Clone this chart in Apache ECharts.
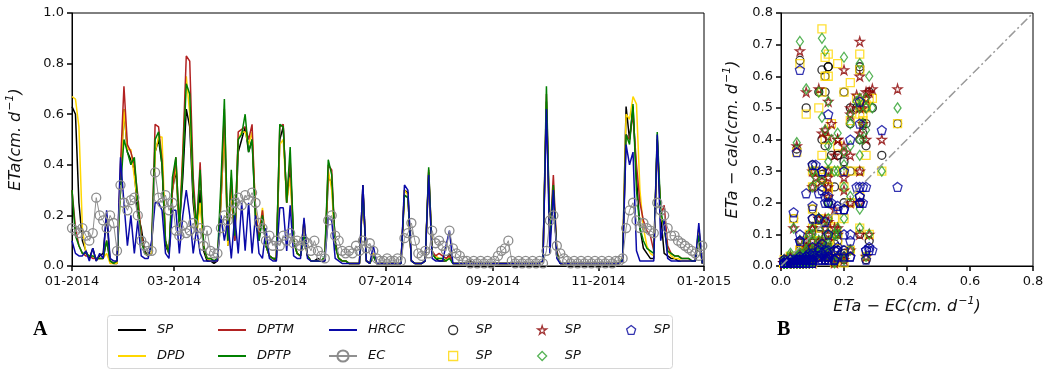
<!DOCTYPE html>
<html>
<head>
<meta charset="utf-8">
<script src="https://cdn.jsdelivr.net/npm/echarts@6/dist/echarts.min.js"></script>
<style>
html,body{margin:0;padding:0;background:#fff;}
#c{width:1051px;height:376px;}
</style>
</head>
<body>
<div id="c"></div>
<script>
// ---- data (sampled every 2 days, day 0 = 2014-01-01) ----
const STEP_DAYS = 2;
const X_TICK_DAYS = [0, 59, 120, 181, 243, 304, 365];
const X_TICK_LABELS = ['01-2014', '03-2014', '05-2014', '07-2014', '09-2014', '11-2014', '01-2015'];

const SP = [
 0.63,0.60,0.25,0.10,0.06,0.03,0.07,0.02,0.04,0.05,
 0.20,0.02,0.01,0.01,0.35,0.62,0.45,0.42,0.38,0.20,
 0.15,0.06,0.04,0.05,0.45,0.50,0.40,0.08,0.05,0.30,
 0.38,0.15,0.35,0.62,0.55,0.25,0.12,0.30,0.06,0.02,
 0.02,0.01,0.02,0.25,0.55,0.08,0.30,0.10,0.45,0.50,
 0.55,0.45,0.50,0.20,0.10,0.20,0.08,0.04,0.03,0.02,
 0.50,0.55,0.25,0.40,0.10,0.05,0.04,0.18,0.04,0.02,
 0.02,0.03,0.02,0.02,0.35,0.33,0.10,0.03,0.02,0.02,
 0.01,0.01,0.01,0.01,0.32,0.02,0.01,0.05,0.01,0.01,
 0.01,0.01,0.01,0.01,0.01,0.01,0.30,0.29,0.02,0.01,
 0.01,0.01,0.02,0.37,0.05,0.03,0.02,0.02,0.02,0.05,
 0.01,0.01,0.01,0.01,0.01,0.02,0.01,0.01,0.01,0.01,
 0.01,0.01,0.01,0.01,0.01,0.01,0.01,0.01,0.01,0.01,
 0.01,0.01,0.01,0.01,0.01,0.01,0.02,0.65,0.10,0.30,
 0.05,0.01,0.01,0.01,0.01,0.01,0.01,0.01,0.01,0.01,
 0.01,0.01,0.01,0.01,0.01,0.01,0.01,0.01,0.01,0.03,
 0.63,0.50,0.63,0.35,0.15,0.07,0.05,0.03,0.03,0.50,
 0.20,0.05,0.04,0.03,0.03,0.02,0.02,0.02,0.02,0.02,
 0.02,0.15,0.01
];
const DPD = [
 0.67,0.66,0.55,0.15,0.05,0.04,0.04,0.03,0.03,0.03,
 0.05,0.01,0.01,0.01,0.30,0.62,0.46,0.46,0.35,0.25,
 0.12,0.05,0.04,0.05,0.45,0.51,0.51,0.10,0.05,0.30,
 0.40,0.15,0.45,0.75,0.60,0.30,0.12,0.25,0.08,0.03,
 0.02,0.02,0.02,0.25,0.55,0.08,0.30,0.12,0.50,0.53,
 0.53,0.48,0.53,0.22,0.12,0.23,0.08,0.04,0.03,0.03,
 0.48,0.50,0.25,0.35,0.10,0.05,0.04,0.18,0.04,0.02,
 0.02,0.02,0.02,0.03,0.38,0.30,0.08,0.03,0.02,0.02,
 0.01,0.01,0.01,0.01,0.30,0.02,0.01,0.05,0.01,0.01,
 0.01,0.01,0.01,0.01,0.01,0.01,0.30,0.28,0.02,0.01,
 0.01,0.01,0.02,0.36,0.05,0.04,0.03,0.03,0.02,0.04,
 0.01,0.01,0.01,0.01,0.01,0.01,0.01,0.01,0.01,0.01,
 0.01,0.01,0.01,0.01,0.01,0.01,0.01,0.01,0.01,0.01,
 0.01,0.01,0.01,0.01,0.01,0.01,0.02,0.64,0.10,0.30,
 0.05,0.01,0.01,0.01,0.01,0.01,0.01,0.01,0.01,0.01,
 0.01,0.01,0.01,0.01,0.01,0.01,0.01,0.01,0.01,0.03,
 0.60,0.58,0.67,0.64,0.30,0.15,0.08,0.05,0.04,0.48,
 0.20,0.15,0.06,0.04,0.03,0.03,0.02,0.02,0.02,0.02,
 0.02,0.15,0.01
];
const DPTM = [
 0.30,0.15,0.08,0.05,0.04,0.04,0.03,0.03,0.03,0.03,
 0.10,0.02,0.01,0.02,0.40,0.71,0.48,0.45,0.40,0.28,
 0.12,0.05,0.04,0.08,0.56,0.55,0.42,0.10,0.05,0.30,
 0.43,0.15,0.45,0.83,0.81,0.35,0.15,0.41,0.08,0.03,
 0.03,0.02,0.02,0.28,0.62,0.10,0.35,0.10,0.53,0.54,
 0.55,0.50,0.56,0.20,0.12,0.22,0.08,0.04,0.03,0.03,
 0.55,0.56,0.25,0.42,0.10,0.05,0.04,0.12,0.04,0.02,
 0.02,0.02,0.02,0.03,0.40,0.38,0.08,0.03,0.02,0.02,
 0.01,0.01,0.01,0.01,0.30,0.02,0.01,0.04,0.01,0.01,
 0.01,0.01,0.01,0.01,0.01,0.01,0.28,0.27,0.02,0.01,
 0.01,0.01,0.02,0.38,0.06,0.04,0.05,0.04,0.03,0.04,
 0.01,0.01,0.01,0.01,0.01,0.01,0.01,0.01,0.01,0.01,
 0.01,0.01,0.01,0.01,0.01,0.01,0.01,0.01,0.01,0.01,
 0.01,0.01,0.01,0.01,0.01,0.01,0.02,0.68,0.12,0.36,
 0.06,0.01,0.01,0.01,0.01,0.01,0.01,0.01,0.01,0.01,
 0.01,0.01,0.01,0.01,0.01,0.01,0.01,0.01,0.01,0.03,
 0.52,0.50,0.60,0.40,0.25,0.18,0.14,0.12,0.06,0.50,
 0.20,0.24,0.08,0.05,0.04,0.04,0.03,0.03,0.03,0.02,
 0.02,0.12,0.01
];
const DPTP = [
 0.30,0.12,0.08,0.05,0.05,0.04,0.04,0.03,0.03,0.03,
 0.10,0.02,0.01,0.02,0.30,0.50,0.45,0.40,0.43,0.25,
 0.10,0.05,0.04,0.08,0.50,0.53,0.40,0.10,0.05,0.35,
 0.43,0.15,0.40,0.72,0.68,0.30,0.15,0.38,0.08,0.03,
 0.03,0.02,0.03,0.33,0.66,0.10,0.38,0.12,0.50,0.52,
 0.60,0.45,0.50,0.18,0.10,0.20,0.08,0.04,0.03,0.03,
 0.56,0.55,0.25,0.47,0.10,0.05,0.04,0.12,0.04,0.02,
 0.02,0.02,0.02,0.04,0.42,0.36,0.08,0.03,0.02,0.02,
 0.01,0.01,0.01,0.01,0.30,0.02,0.01,0.04,0.01,0.01,
 0.01,0.01,0.01,0.01,0.01,0.01,0.28,0.27,0.02,0.01,
 0.01,0.01,0.02,0.39,0.05,0.03,0.03,0.03,0.02,0.03,
 0.01,0.01,0.01,0.01,0.01,0.01,0.01,0.01,0.01,0.01,
 0.01,0.01,0.01,0.01,0.01,0.01,0.01,0.01,0.01,0.01,
 0.01,0.01,0.01,0.01,0.01,0.01,0.02,0.71,0.12,0.32,
 0.05,0.01,0.01,0.01,0.01,0.01,0.01,0.01,0.01,0.01,
 0.01,0.01,0.01,0.01,0.01,0.01,0.01,0.01,0.01,0.03,
 0.52,0.48,0.64,0.30,0.15,0.10,0.07,0.06,0.05,0.53,
 0.22,0.15,0.06,0.05,0.04,0.04,0.03,0.03,0.03,0.02,
 0.02,0.12,0.01
];
const HRCC = [
 0.10,0.05,0.04,0.04,0.06,0.02,0.07,0.02,0.05,0.03,
 0.22,0.03,0.02,0.02,0.43,0.25,0.08,0.20,0.05,0.18,
 0.04,0.03,0.03,0.10,0.25,0.25,0.22,0.05,0.03,0.22,
 0.22,0.05,0.20,0.30,0.20,0.05,0.15,0.05,0.02,0.02,
 0.02,0.02,0.02,0.20,0.10,0.18,0.03,0.20,0.05,0.25,
 0.06,0.25,0.05,0.20,0.05,0.03,0.15,0.03,0.02,0.02,
 0.23,0.23,0.06,0.24,0.04,0.03,0.03,0.19,0.03,0.02,
 0.02,0.02,0.02,0.02,0.19,0.18,0.03,0.02,0.01,0.01,
 0.01,0.01,0.01,0.01,0.32,0.02,0.01,0.08,0.01,0.01,
 0.01,0.01,0.01,0.01,0.01,0.01,0.32,0.30,0.02,0.01,
 0.01,0.01,0.02,0.36,0.03,0.02,0.02,0.02,0.08,0.14,
 0.01,0.01,0.01,0.01,0.01,0.01,0.01,0.01,0.01,0.01,
 0.01,0.01,0.01,0.01,0.01,0.01,0.01,0.01,0.01,0.01,
 0.01,0.01,0.01,0.01,0.01,0.01,0.02,0.62,0.05,0.30,
 0.03,0.01,0.01,0.01,0.01,0.01,0.01,0.01,0.01,0.01,
 0.01,0.01,0.01,0.01,0.01,0.01,0.01,0.01,0.01,0.02,
 0.48,0.40,0.45,0.06,0.02,0.02,0.02,0.02,0.02,0.52,
 0.10,0.18,0.03,0.02,0.02,0.02,0.02,0.02,0.02,0.02,
 0.02,0.17,0.01
];
const EC = [
 0.15,0.14,0.13,0.15,0.12,0.10,0.13,0.27,0.20,0.18,
 0.15,0.20,0.17,0.06,0.32,0.25,0.22,0.26,0.27,0.20,
 0.10,0.08,0.06,0.06,0.37,0.27,0.25,0.28,0.22,0.25,
 0.14,0.12,0.16,0.13,0.14,0.17,0.12,0.15,0.08,0.14,
 0.06,0.05,0.05,0.15,0.20,0.18,0.22,0.25,0.27,0.24,
 0.28,0.26,0.29,0.25,0.17,0.15,0.10,0.12,0.08,0.10,
 0.08,0.12,0.10,0.13,0.09,0.10,0.08,0.10,0.09,0.06,
 0.10,0.06,0.04,0.03,0.18,0.20,0.12,0.10,0.06,0.05,
 0.06,0.05,0.08,0.06,0.10,0.07,0.09,0.06,0.03,0.02,
 0.02,0.03,0.02,0.02,0.03,0.02,0.11,0.13,0.17,0.10,
 0.05,0.04,0.06,0.05,0.14,0.09,0.10,0.08,0.06,0.14,
 0.07,0.05,0.04,0.02,0.02,0.01,0.02,0.01,0.02,0.01,
 0.02,0.01,0.02,0.04,0.06,0.07,0.10,0.02,0.01,0.02,
 0.01,0.02,0.01,0.02,0.01,0.02,0.01,0.06,0.18,0.20,
 0.08,0.05,0.03,0.02,0.01,0.02,0.01,0.02,0.01,0.02,
 0.01,0.02,0.01,0.02,0.01,0.02,0.01,0.02,0.02,0.03,
 0.15,0.22,0.25,0.18,0.15,0.17,0.15,0.14,0.13,0.25,
 0.22,0.20,0.15,0.12,0.12,0.10,0.09,0.08,0.07,0.06,
 0.05,0.04,0.08
];
const DIAG = [[0, 0], [0.8, 0.8]];

// ---- build ----
const FONT = 'DejaVu Sans';
const toXY = arr => arr.map((v, i) => [i * STEP_DAYS, v]);
const vsEC = arr => arr.map((v, i) => [EC[i], v]);

const STAR = 'path://M50,0 L61,35 L98,35 L68,57 L79,91 L50,70 L21,91 L32,57 L2,35 L39,35 Z';
const PENT = 'path://M50,0 L98,36 L80,95 L20,95 L2,36 Z';

const lineSeries = (name, data, color) => ({
  name, type: 'line', data: toXY(data), xAxisIndex: 0, yAxisIndex: 0,
  symbol: 'none', lineStyle: { color, width: 1.5 }, itemStyle: { color },
  z: 2
});
const scatterSeries = (name, data, symbol, color, size) => ({
  name, type: 'scatter', data: vsEC(data), xAxisIndex: 1, yAxisIndex: 1,
  symbol, symbolSize: size,
  itemStyle: { color: 'rgba(0,0,0,0)', borderColor: color, borderWidth: 1.3 },
  z: 3
});

const tickLabel = { fontFamily: FONT, fontSize: 13, color: '#111' };
const axisTitle = {
  i: { fontFamily: FONT, fontStyle: 'italic', fontSize: 16, color: '#111', lineHeight: 22 },
  s: { fontFamily: FONT, fontStyle: 'italic', fontSize: 11, color: '#111', lineHeight: 22, verticalAlign: 'top', padding: [0, 0, 0, 1] }
};
const axBase = {
  axisLine: { show: true, onZero: false, lineStyle: { color: '#000', width: 1 } },
  axisTick: { show: true, inside: false, length: 5, lineStyle: { color: '#000', width: 1.5 } },
  splitLine: { show: false }
};

const legendText = (pad) => ({ fontFamily: FONT, fontStyle: 'italic', fontSize: 13, color: '#111', lineHeight: 14, padding: [0, 0, 0, pad] });
const noSym = n => ({ name: n, itemStyle: { opacity: 0 } });
const symItem = (n, icon, color) => ({
  name: n, icon,
  itemStyle: { color: 'rgba(0,0,0,0)', borderColor: color, borderWidth: 1.3 }
});
const mkLegend = (left, top, names, iw, ih, gap, pad) => ({
  show: true, orient: 'vertical', left, top, data: names,
  itemWidth: iw, itemHeight: ih, itemGap: gap,
  textStyle: legendText(pad),
  formatter: n => n.split('_')[0],
  selectedMode: false
});

const option = {
  animation: false,
  backgroundColor: '#fff',
  grid: [
    { left: 72, right: 347, top: 13, bottom: 110, show: true, borderColor: '#000', borderWidth: 1, outerBoundsMode: 'none', containLabel: false },
    { left: 781, right: 18, top: 13, bottom: 110, show: true, borderColor: '#000', borderWidth: 1, outerBoundsMode: 'none', containLabel: false }
  ],
  xAxis: [
    Object.assign({}, axBase, {
      type: 'value', gridIndex: 0, min: 0, max: 365,
      axisTick: Object.assign({}, axBase.axisTick, { customValues: X_TICK_DAYS }),
      axisLabel: Object.assign({}, tickLabel, {
        customValues: X_TICK_DAYS, margin: 9,
        formatter: v => X_TICK_LABELS[X_TICK_DAYS.indexOf(v)]
      })
    }),
    Object.assign({}, axBase, {
      type: 'value', gridIndex: 1, min: 0, max: 0.8, interval: 0.2,
      axisLabel: Object.assign({}, tickLabel, { margin: 9, formatter: v => v.toFixed(1) }),
      name: '{i|ETa − EC(cm. d}{s|−1}{i|)}', nameLocation: 'middle', nameGap: 30,
      nameTextStyle: { rich: axisTitle }
    })
  ],
  yAxis: [
    Object.assign({}, axBase, {
      type: 'value', gridIndex: 0, min: 0, max: 1, interval: 0.2,
      axisLabel: Object.assign({}, tickLabel, { margin: 8, formatter: v => v.toFixed(1) }),
      name: '{i|ETa(cm. d}{s|−1}{i|)}', nameLocation: 'middle', nameGap: 45,
      nameTextStyle: { rich: axisTitle }
    }),
    Object.assign({}, axBase, {
      type: 'value', gridIndex: 1, min: 0, max: 0.8, interval: 0.1,
      axisLabel: Object.assign({}, tickLabel, { margin: 8, formatter: v => v.toFixed(1) }),
      name: '{i|ETa − calc(cm. d}{s|−1}{i|)}', nameLocation: 'middle', nameGap: 37,
      nameTextStyle: { rich: axisTitle }
    })
  ],
  legend: [
    mkLegend(112, 318, [noSym('SP'), noSym('DPD')], 28, 14, 12, 6),
    mkLegend(212, 318, [noSym('DPTM'), noSym('DPTP')], 28, 14, 12, 6),
    mkLegend(323, 318, [noSym('HRCC'), 'EC'], 28, 14, 12, 6),
    mkLegend(443, 318, [symItem('SP_c', 'circle', '#000000'), symItem('SP_s', 'rect', '#ffd700')], 9, 9, 12, 13),
    mkLegend(532, 318, [symItem('SP_t', STAR, '#8b0000'), symItem('SP_d', 'diamond', '#2ca02c')], 9, 9, 12, 13),
    mkLegend(621, 318, [symItem('SP_p', PENT, '#00009c')], 9, 9, 12, 13)
  ],
  graphic: [
    { type: 'rect', shape: { x: 107.5, y: 315.5, width: 565, height: 53, r: 3 },
      style: { fill: 'rgba(255,255,255,0.8)', stroke: '#d6d6d6', lineWidth: 1 }, z: -1 },
    { type: 'text', left: 33, top: 320, style: { text: 'A', font: 'bold 20px "Liberation Serif"', fill: '#000' } },
    { type: 'text', left: 777, top: 320, style: { text: 'B', font: 'bold 20px "Liberation Serif"', fill: '#000' } }
  ],
  series: [
    lineSeries('SP', SP, '#000000'),
    lineSeries('DPD', DPD, '#ffd700'),
    lineSeries('DPTM', DPTM, '#b22222'),
    lineSeries('DPTP', DPTP, '#008000'),
    lineSeries('HRCC', HRCC, '#0a0aa8'),
    {
      name: 'EC', type: 'line', data: toXY(EC), xAxisIndex: 0, yAxisIndex: 0,
      symbol: 'circle', symbolSize: 9, showSymbol: true, showAllSymbol: true,
      lineStyle: { color: '#909090', width: 1 },
      itemStyle: { color: 'rgba(255,255,255,0)', borderColor: '#8c8c8c', borderWidth: 1.3 },
      z: 4
    },
    {
      name: 'diag', type: 'line', data: DIAG, xAxisIndex: 1, yAxisIndex: 1,
      symbol: 'none', lineStyle: { color: '#9a9a9a', width: 1.5, type: [9, 3, 2, 3] }, z: 5
    },
    scatterSeries('SP_c', SP, 'circle', '#000000', 8),
    scatterSeries('SP_s', DPD, 'rect', '#ffd700', 8),
    scatterSeries('SP_t', DPTM, STAR, '#8b0000', 9),
    scatterSeries('SP_d', DPTP, 'diamond', '#2ca02c', [7, 10]),
    scatterSeries('SP_p', HRCC, PENT, '#00009c', 9)
  ]
};

const chart = echarts.init(document.getElementById('c'), null, { renderer: 'canvas' });
chart.setOption(option);
</script>
</body>
</html>
